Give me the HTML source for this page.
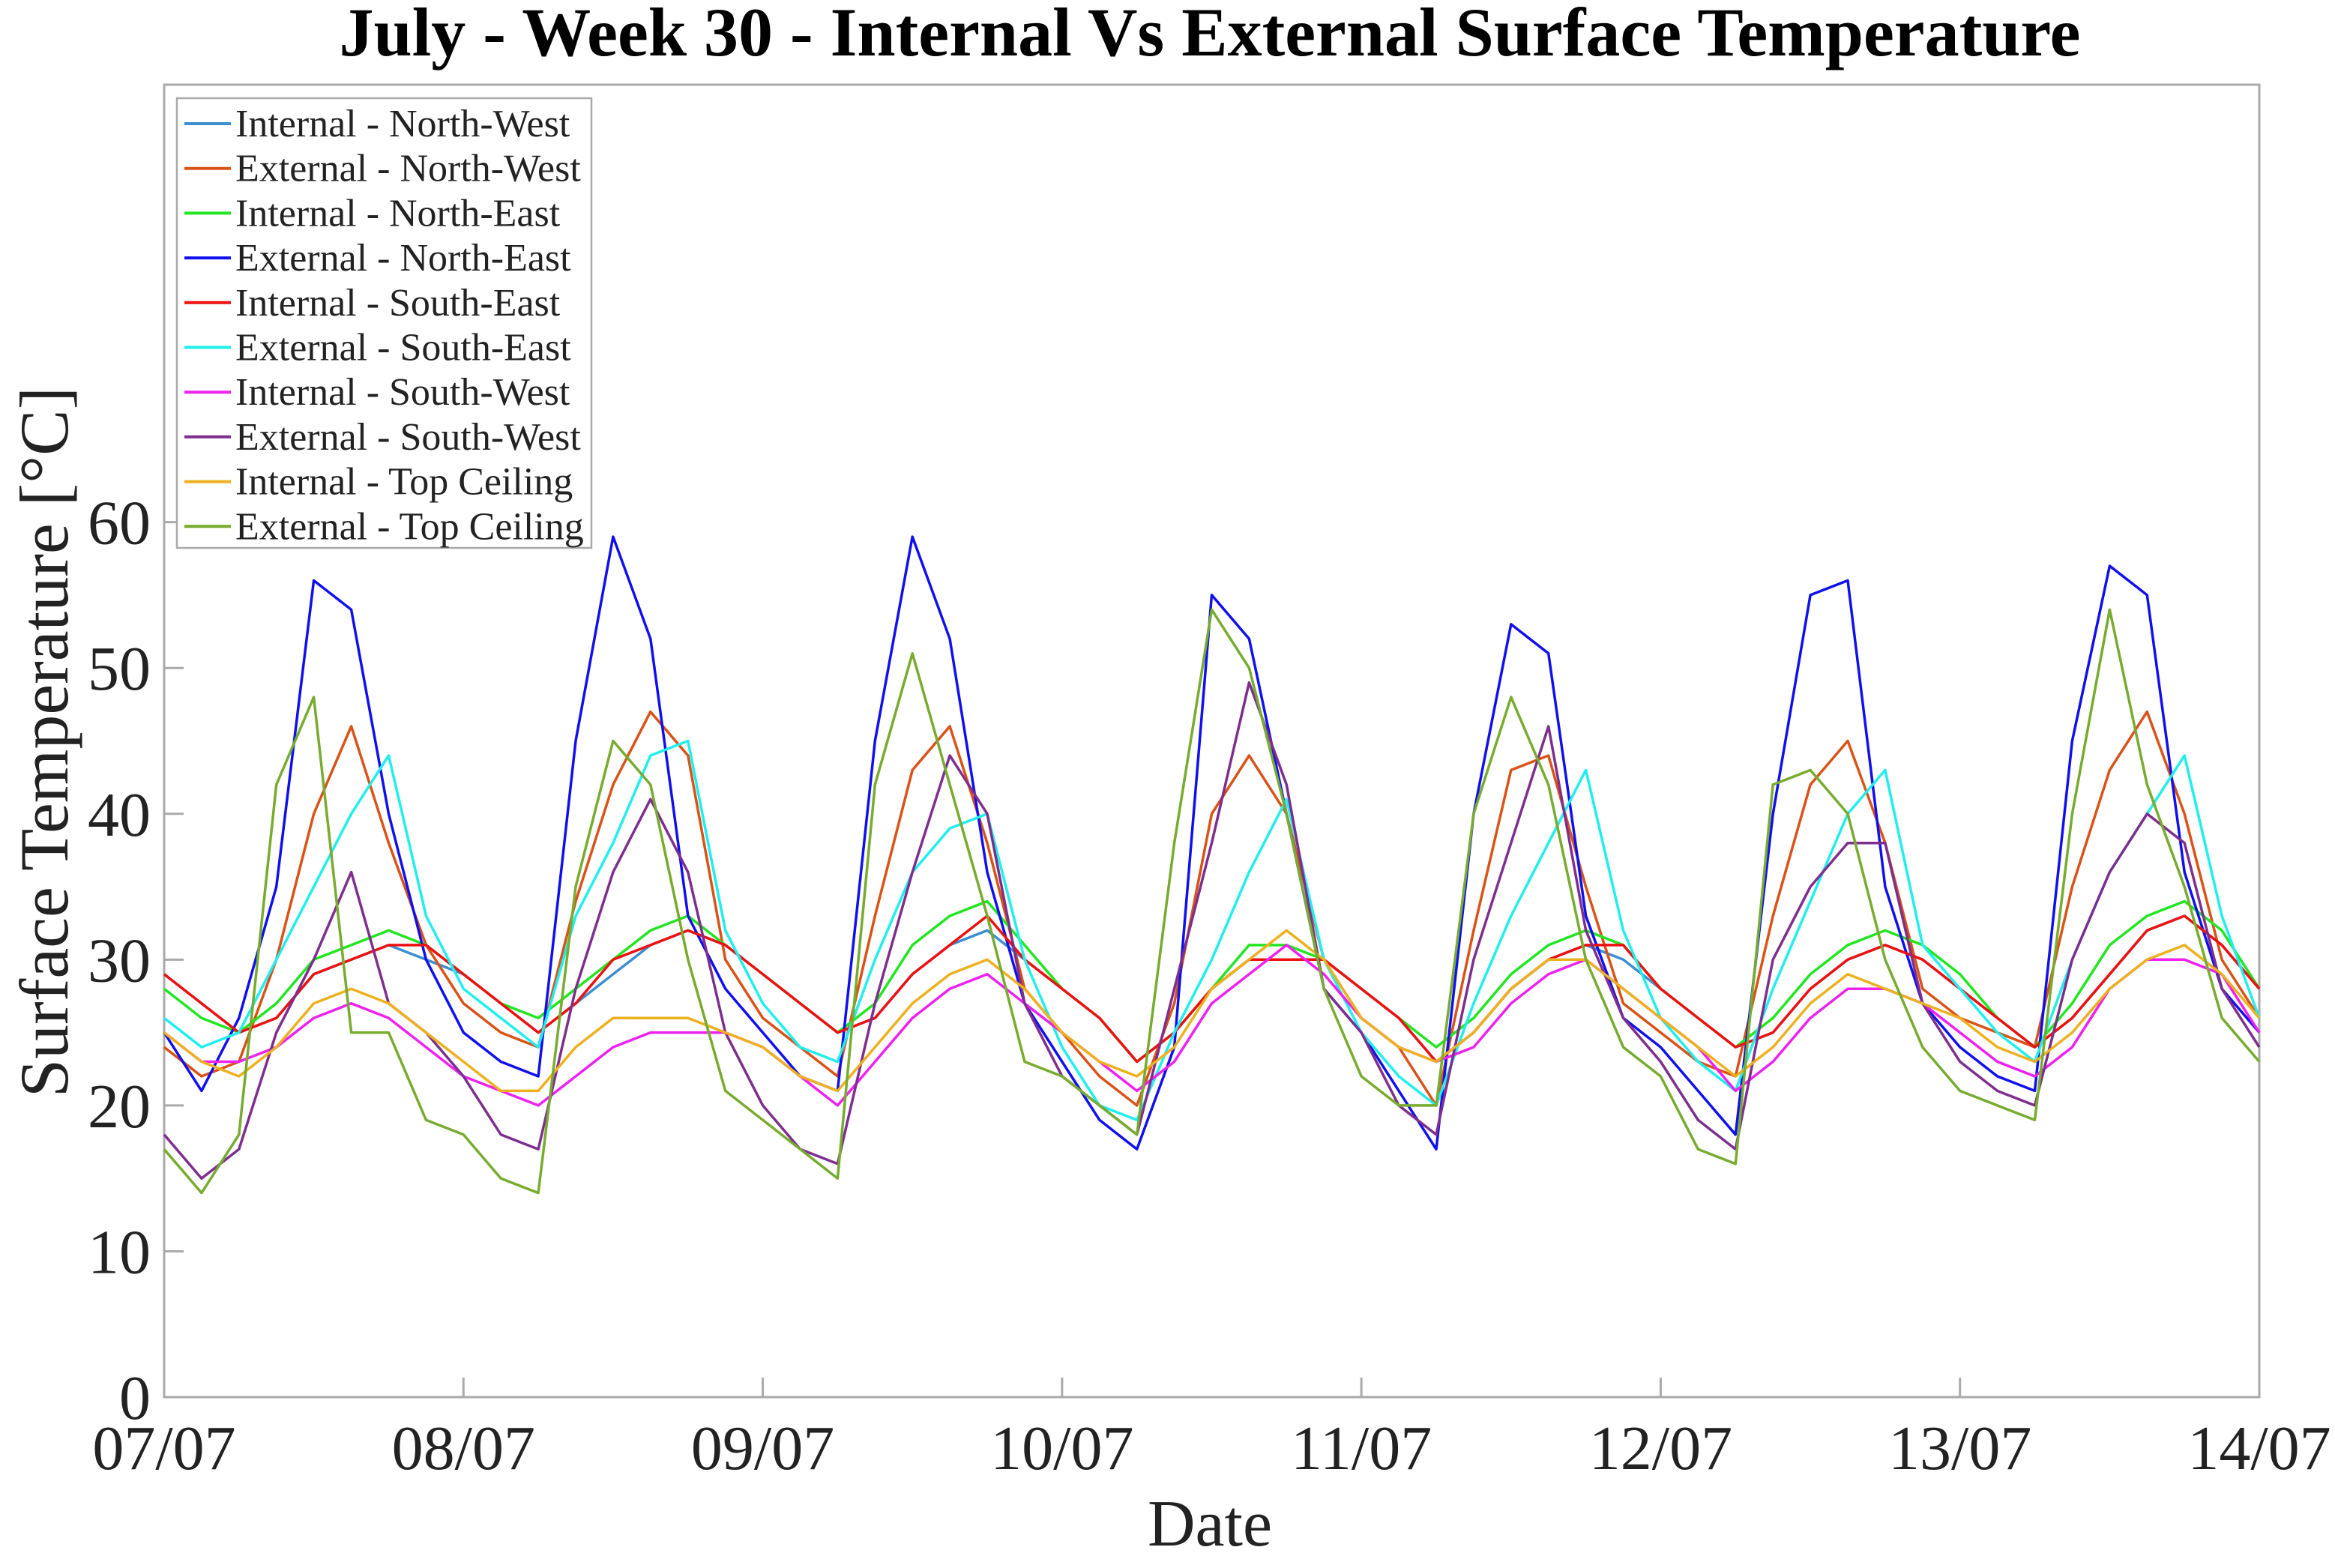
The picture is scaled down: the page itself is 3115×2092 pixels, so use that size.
<!DOCTYPE html>
<html><head><meta charset="utf-8"><style>
html,body{margin:0;padding:0;background:#fff;}
svg{display:block;font-family:"Liberation Serif",serif;}
</style></head><body>
<svg id="chart" width="3115" height="2092" viewBox="0 0 3115 2092" xmlns="http://www.w3.org/2000/svg">
<rect width="3115" height="2092" fill="#fff"/>
<text x="1614" y="74" text-anchor="middle" font-size="92" font-weight="bold" fill="#000">July - Week 30 - Internal Vs External Surface Temperature</text>
<g id="axes"></g>
<g id="series"></g>
<g id="legend"></g>
<text x="1614" y="2062" text-anchor="middle" font-size="88" fill="#222">Date</text>
<text transform="translate(90,990) rotate(-90)" text-anchor="middle" font-size="92" fill="#222">Surface Temperature [°C]</text>
</svg>
<script>
const dayLabels=["07/07","08/07","09/07","10/07","11/07","12/07","13/07","14/07"];
const yTicks=[0,10,20,30,40,50,60];
const seriesNames=["Internal - North-West","External - North-West","Internal - North-East","External - North-East","Internal - South-East","External - South-East","Internal - South-West","External - South-West","Internal - Top Ceiling","External - Top Ceiling"];
const seriesColors=["#3d8fd1","#d95319","#22e622","#1010ee","#ee1111","#22eeee","#ee22ee","#7e2f8e","#edb120","#77ac30"];
// values every 3 hours from 07/07 00:00 to 14/07 00:00
const intNW=[29,27,25,26,29,30,31,30, 29,27,25,27,29,31,32,31, 29,27,25,26,29,31,32,30, 28,26,23,25,28,30,30,30, 28,26,23,25,28,30,31,30, 28,26,24,25,28,30,31,30, 28,26,24,26,29,32,33,31, 28];
const extNW=[24,22,23,30,40,46,38,31, 27,25,24,34,42,47,44,30, 26,24,22,33,43,46,38,28, 25,22,20,27,40,44,40,30, 26,24,20,32,43,44,35,27, 25,23,22,33,42,45,38,28, 26,25,24,35,43,47,40,30, 26];
const intNE=[28,26,25,27,30,31,32,31, 29,27,26,28,30,32,33,31, 29,27,25,27,31,33,34,31, 28,26,23,25,28,31,31,30, 28,26,24,26,29,31,32,31, 28,26,24,26,29,31,32,31, 29,26,24,27,31,33,34,32, 28];
const extNE=[25,21,26,35,56,54,40,30, 25,23,22,45,59,52,33,28, 25,22,21,45,59,52,36,27, 23,19,17,24,55,52,40,28, 25,21,17,40,53,51,33,26, 24,21,18,40,55,56,35,27, 24,22,21,45,57,55,36,28, 25];
const intSE=[29,27,25,26,29,30,31,31, 29,27,25,27,30,31,32,31, 29,27,25,26,29,31,33,30, 28,26,23,25,28,30,30,30, 28,26,23,25,28,30,31,31, 28,26,24,25,28,30,31,30, 28,26,24,26,29,32,33,31, 28];
const extSE=[26,24,25,30,35,40,44,33, 28,26,24,33,38,44,45,32, 27,24,23,30,36,39,40,30, 24,20,19,25,30,36,41,30, 25,22,20,27,33,38,43,32, 26,23,21,28,34,40,43,31, 28,25,23,30,36,40,44,33, 26];
const intSW=[25,23,23,24,26,27,26,24, 22,21,20,22,24,25,25,25, 24,22,20,23,26,28,29,27, 25,23,21,23,27,29,31,29, 26,24,23,24,27,29,30,28, 26,24,21,23,26,28,28,27, 25,23,22,24,28,30,30,29, 25];
const extSW=[18,15,17,25,30,36,27,25, 22,18,17,28,36,41,36,25, 20,17,16,27,36,44,40,27, 22,20,18,28,38,49,42,28, 25,20,18,30,38,46,32,26, 23,19,17,30,35,38,38,27, 23,21,20,30,36,40,38,28, 24];
const intTop=[25,23,22,24,27,28,27,25, 23,21,21,24,26,26,26,25, 24,22,21,24,27,29,30,28, 25,23,22,24,28,30,32,30, 26,24,23,25,28,30,30,28, 26,24,22,24,27,29,28,27, 26,24,23,25,28,30,31,29, 26];
const extTop=[17,14,18,42,48,25,25,19, 18,15,14,35,45,42,30,21, 19,17,15,42,51,42,33,23, 22,20,18,38,54,50,40,28, 22,20,20,40,48,42,30,24, 22,17,16,42,43,40,30,24, 21,20,19,40,54,42,35,26, 23];
const allSeries=[intNW,extNW,intNE,extNE,intSE,extSE,intSW,extSW,intTop,extTop];

const NS="http://www.w3.org/2000/svg";
const L=219,R=3014,T=113,B=1864,YMAX=90,DAYS=7,STEP_H=3;
const xScale=h=>L+(h/(DAYS*24))*(R-L);
const yScale=v=>B-(v/YMAX)*(B-T);
function mk(tag,attrs,parent){const e=document.createElementNS(NS,tag);for(const k in attrs)e.setAttribute(k,attrs[k]);parent.appendChild(e);return e;}
const axes=document.getElementById('axes');
const frame=mk('rect',{x:L,y:T,width:R-L,height:B-T,fill:'none',stroke:'#aaa','stroke-width':3},axes);


yTicks.forEach(v=>{
  const y=yScale(v);
  const t=mk('line',{x1:L,x2:L+26,y1:y,y2:y,stroke:'#aaa','stroke-width':3},axes);
  
  
  const tx=mk('text',{x:L-18,y:y+29,'text-anchor':'end','font-size':84,fill:'#222'},axes);
  tx.textContent=v;
  
  
});
dayLabels.forEach((lab,i)=>{
  const x=xScale(i*24);
  const t=mk('line',{x1:x,x2:x,y1:B,y2:B-26,stroke:'#aaa','stroke-width':3},axes);
  
  
  const tx=mk('text',{x:x,y:B+96,'text-anchor':'middle','font-size':84,fill:'#222'},axes);
  tx.textContent=lab;
  
  
});
const sg=document.getElementById('series');
allSeries.forEach((vals,si)=>{
  const pts=vals.map((v,i)=>xScale(i*STEP_H).toFixed(1)+','+yScale(v).toFixed(1)).join(' ');
  const p=mk('polyline',{points:pts,fill:'none',stroke:seriesColors[si],'stroke-width':3.5,'stroke-linejoin':'round'},sg);
  
  
});
const lg=document.getElementById('legend');
const box=mk('rect',{x:236,y:131,width:553,height:600,fill:'#fff',stroke:'#aaa','stroke-width':2.5},lg);


seriesNames.forEach((n,i)=>{
  const y=165+i*59.7;
  const ln=mk('line',{x1:246,x2:308,y1:y,y2:y,stroke:seriesColors[i],'stroke-width':4},lg);
  
  
  const tx=mk('text',{x:314,y:y+17,'font-size':52,fill:'#222'},lg);
  tx.textContent=n;
  
  
});
</script>
</body></html>
